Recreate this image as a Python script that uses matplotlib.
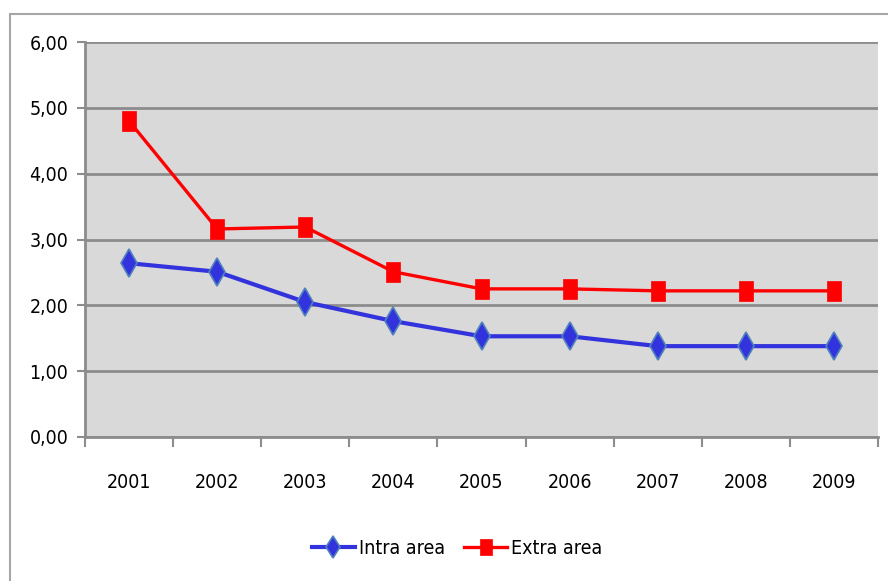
import matplotlib
matplotlib.use("Agg")
import matplotlib.pyplot as plt
from matplotlib.patches import Rectangle
from matplotlib.ticker import FixedLocator, FuncFormatter
from matplotlib import font_manager

years = ["2001", "2002", "2003", "2004", "2005", "2006", "2007", "2008", "2009"]
intra = [2.64, 2.51, 2.05, 1.76, 1.53, 1.53, 1.38, 1.38, 1.38]
extra = [4.80, 3.16, 3.19, 2.51, 2.25, 2.25, 2.22, 2.22, 2.22]
yticks = [0, 1, 2, 3, 4, 5, 6]

fonts = font_manager.fontManager.ttflist
cond = [f for f in fonts if f.name == "DejaVu Sans" and str(f.stretch) in ("condensed", "semi-condensed", "375", "400", "300")]
plt.rcParams['font.family'] = ['DejaVu Sans']
if cond:
    plt.rcParams['font.stretch'] = 'condensed'

fig = plt.figure(figsize=(8.88, 5.81), dpi=100)
fig.patches.append(Rectangle((10/888, -0.1), 1.2, 1 - 14/581 + 0.1, transform=fig.transFigure,
                             fill=False, edgecolor="#a6a6a6", linewidth=1.5))
ax = fig.add_axes([85/888, 1 - 437/581, (878 - 85)/888, (437 - 42)/581])
ax.set_facecolor("#d9d9d9")

rect_marker = [(-0.72, -1), (0.72, -1), (0.72, 1), (-0.72, 1), (-0.72, -1)]

x = list(range(len(years)))
ax.plot(x, intra, color="#3333dd", linewidth=3, marker="d", markersize=14,
        markerfacecolor="#3333dd", markeredgecolor="#4f81bd", markeredgewidth=1.2,
        label="Intra area", zorder=3)
ax.plot(x, extra, color="#ff0000", linewidth=2.4, marker=rect_marker, markersize=14,
        markerfacecolor="#ff0000", markeredgecolor="#ff0000", markeredgewidth=0.5,
        label="Extra area", zorder=4)

ax.set_xlim(-0.5, len(years) - 0.5)
ax.set_ylim(0, 6)
ax.set_yticks(yticks)
ax.yaxis.set_major_formatter(FuncFormatter(lambda v, p: f"{v:.2f}".replace(".", ",")))
ax.grid(axis="y", color="#8c8c8c", linewidth=2)
ax.set_axisbelow(True)

ax.set_xticks(x)
ax.set_xticklabels(years)
ax.xaxis.set_minor_locator(FixedLocator([i - 0.5 for i in range(len(years) + 1)]))
ax.tick_params(axis="x", which="major", length=0, pad=26, labelsize=14)
ax.tick_params(axis="x", which="minor", length=7, width=1.5, color="#8c8c8c")
ax.tick_params(axis="y", which="major", length=6, width=1.5, color="#8c8c8c", labelsize=14, pad=6)

for s in ["top", "right"]:
    ax.spines[s].set_visible(False)
for s in ["left", "bottom"]:
    ax.spines[s].set_color("#8c8c8c")
    ax.spines[s].set_linewidth(2)

leg = fig.legend(loc="center", bbox_to_anchor=(457/888, 1 - 548/581), ncol=2, frameon=False,
                 fontsize=14, handlelength=2.2, columnspacing=1.0, handletextpad=0.2,
                 markerscale=0.8)

fig.savefig("out.png", dpi=100)
